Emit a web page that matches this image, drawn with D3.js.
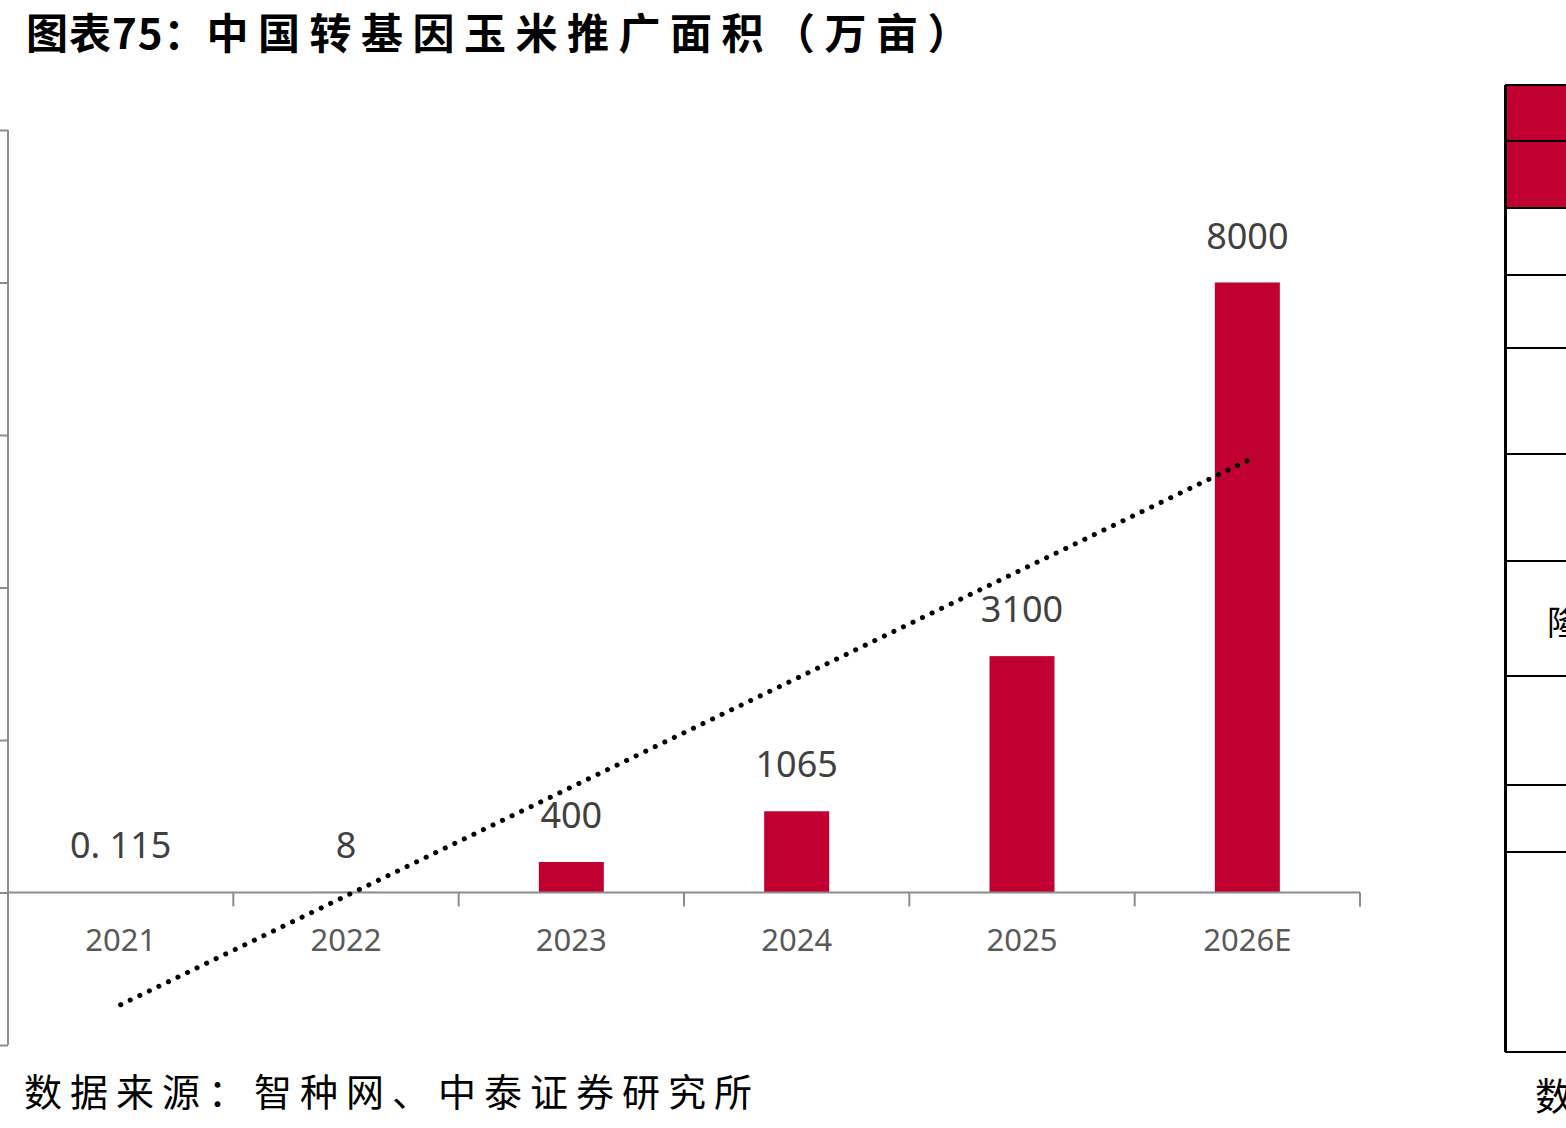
<!DOCTYPE html>
<html>
<head>
<meta charset="utf-8">
<script src="https://cdn.jsdelivr.net/npm/d3@7"></script>
<style>
  body { margin: 0; background: #fff; }
  svg { display: block; }
</style>
</head>
<body>
<script>
var years = ["2021", "2022", "2023", "2024", "2025", "2026E"];
var area = [0.115, 8, 400, 1065, 3100, 8000];
var areaLabels = ["0. 115", "8", "400", "1065", "3100", "8000"];
var yTicks = [-2000, 0, 2000, 4000, 6000, 8000, 10000];
var tableRows = [85, 141, 208, 275, 348, 454, 561, 676, 785, 852, 1052];

var W = 1566, H = 1128;
var svg = d3.select("body").append("svg").attr("width", W).attr("height", H);

// title
var title = svg.append("text")
  .attr("x", 26).attr("y", 49)
  .attr("font-family", "'Noto Sans CJK SC'")
  .attr("font-weight", "bold")
  .attr("font-size", 42)
  .attr("fill", "#000");
title.append("tspan").attr("letter-spacing", 1).text("图表75：");
title.append("tspan").attr("letter-spacing", 9.5).text("中国转基因玉米推广面积（万亩）");

// source
svg.append("text")
  .attr("x", 24).attr("y", 1106)
  .attr("font-family", "'Noto Sans CJK SC'")
  .attr("font-size", 38)
  .attr("letter-spacing", 8)
  .attr("fill", "#000")
  .text("数据来源：智种网、中泰证券研究所");

var x = d3.scaleBand().domain(years).range([8, 1360]).paddingInner(0).paddingOuter(0);
var y = d3.scaleLinear().domain([-2000, 10000]).range([1045, 130]);

var grey = "#8c8c8c";

// y axis (labels cut off in the source)
var yAxis = svg.append("g").attr("transform", "translate(8,0)")
  .call(d3.axisLeft(y).tickValues(yTicks).tickSize(8).tickFormat(""));
yAxis.selectAll("path,line").attr("stroke", grey).attr("stroke-width", 2);
yAxis.select(".domain").attr("d", "M0," + y(10000) + "V" + y(-2000));

// bars
var barW = 65;
svg.selectAll("rect.bar").data(area).enter().append("rect")
  .attr("class", "bar")
  .attr("x", function(d, i) { return x(years[i]) + x.bandwidth() / 2 - barW / 2; })
  .attr("width", barW)
  .attr("y", function(d) { return y(d); })
  .attr("height", function(d) { return y(0) - y(d); })
  .attr("fill", "#c00030");

// x axis at zero
var xAxis = svg.append("g").attr("transform", "translate(0," + y(0) + ")");
xAxis.append("line").attr("x1", 8).attr("x2", 1360).attr("stroke", grey).attr("stroke-width", 2);
var bounds = years.map(function(d) { return x(d); }).concat([1360]);
xAxis.selectAll("line.tk").data(bounds).enter().append("line")
  .attr("class", "tk")
  .attr("x1", function(d) { return d; }).attr("x2", function(d) { return d; })
  .attr("y1", 0).attr("y2", 14)
  .attr("stroke", grey).attr("stroke-width", 2);
xAxis.selectAll("text").data(years).enter().append("text")
  .attr("x", function(d) { return x(d) + x.bandwidth() / 2; })
  .attr("y", 58)
  .attr("text-anchor", "middle")
  .attr("font-family", "'Noto Sans', sans-serif")
  .attr("font-size", 31)
  .attr("fill", "#595959")
  .text(function(d) { return d; });

// value labels
svg.selectAll("text.val").data(area).enter().append("text")
  .attr("class", "val")
  .attr("x", function(d, i) { return x(years[i]) + x.bandwidth() / 2; })
  .attr("y", function(d) { return y(d) - 34; })
  .attr("text-anchor", "middle")
  .attr("font-family", "'Noto Sans', sans-serif")
  .attr("font-size", 36)
  .attr("fill", "#404040")
  .text(function(d, i) { return areaLabels[i]; });

// linear trendline (least squares over the category index)
var n = area.length;
var mx = d3.mean(d3.range(n));
var my = d3.mean(area);
var slope = d3.sum(area, function(d, i) { return (i - mx) * (d - my); }) /
            d3.sum(d3.range(n), function(i) { return (i - mx) * (i - mx); });
var icpt = my - slope * mx;
var cx = function(i) { return x(years[i]) + x.bandwidth() / 2; };
svg.append("line")
  .attr("x1", cx(0)).attr("y1", y(icpt))
  .attr("x2", cx(n - 1)).attr("y2", y(icpt + slope * (n - 1)))
  .attr("stroke", "#000")
  .attr("stroke-width", 5)
  .attr("stroke-linecap", "round")
  .attr("stroke-dasharray", "0.1 10.5");

// cropped table at right edge
var tbl = svg.append("g");
tbl.append("rect").attr("x", 1505).attr("y", tableRows[0]).attr("width", W - 1505)
  .attr("height", tableRows[2] - tableRows[0]).attr("fill", "#c00030");
tbl.selectAll("line.row").data(tableRows).enter().append("line")
  .attr("class", "row")
  .attr("x1", 1505).attr("x2", W)
  .attr("y1", function(d) { return d; }).attr("y2", function(d) { return d; })
  .attr("stroke", "#000").attr("stroke-width", 2);
tbl.append("line").attr("x1", 1505.5).attr("x2", 1505.5)
  .attr("y1", tableRows[0]).attr("y2", tableRows[tableRows.length - 1])
  .attr("stroke", "#000").attr("stroke-width", 3);
tbl.append("text").attr("x", 1547).attr("y", 635)
  .attr("font-family", "'Noto Sans CJK SC'").attr("font-size", 34).attr("fill", "#000").text("隆");
tbl.append("text").attr("x", 1535).attr("y", 1110)
  .attr("font-family", "'Noto Sans CJK SC'").attr("font-size", 38).attr("fill", "#000").text("数");
</script>
</body>
</html>
